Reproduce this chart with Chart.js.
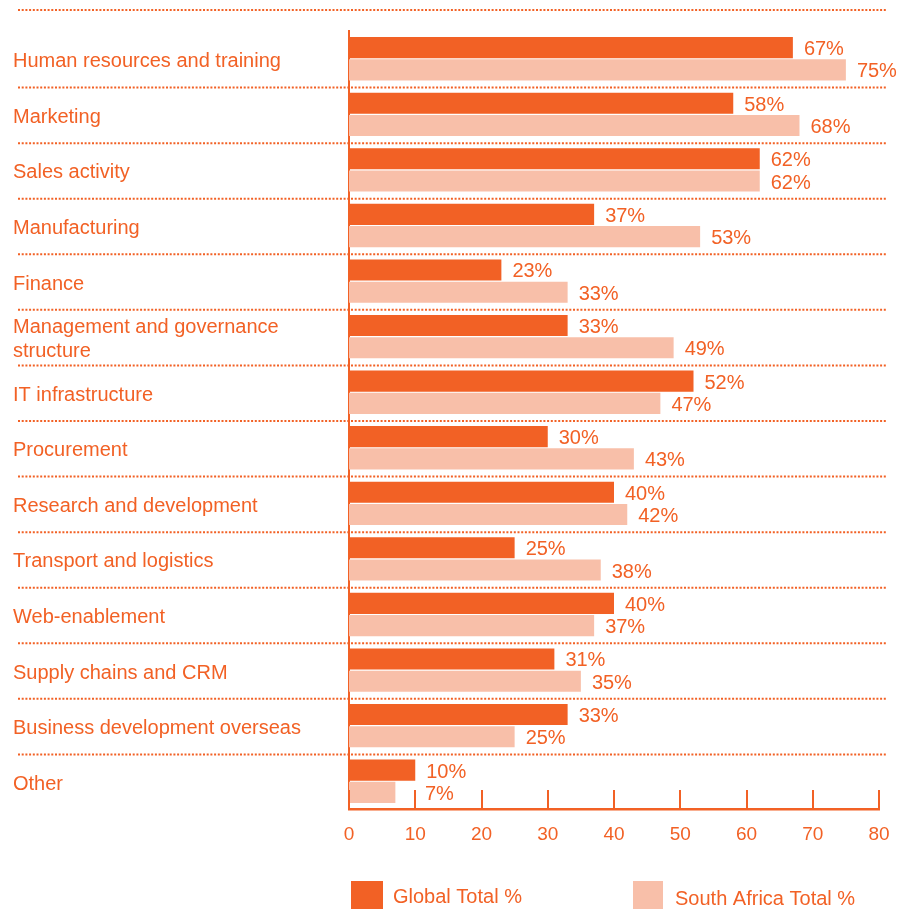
<!DOCTYPE html>
<html>
<head>
<meta charset="utf-8">
<script src="https://cdn.jsdelivr.net/npm/chart.js@4/dist/chart.umd.min.js"></script>
<style>
  html, body { margin: 0; padding: 0; background: #ffffff; }
  #wrap { width: 915px; height: 909px; }
</style>
</head>
<body>
<div id="wrap"><canvas id="c" width="915" height="909"></canvas></div>
<script>
// Categories (top to bottom) and the two survey series, in percent
const categories = [
  'Human resources and training',
  'Marketing',
  'Sales activity',
  'Manufacturing',
  'Finance',
  ['Management and governance', 'structure'],
  'IT infrastructure',
  'Procurement',
  'Research and development',
  'Transport and logistics',
  'Web-enablement',
  'Supply chains and CRM',
  'Business development overseas',
  'Other'
];
const globalTotal = [67, 58, 62, 37, 23, 33, 52, 30, 40, 25, 40, 31, 33, 10];
const southAfricaTotal = [75, 68, 62, 53, 33, 49, 47, 43, 42, 38, 37, 35, 25, 7];
const seriesNames = ['Global Total %', 'South Africa Total %'];
const xTickLabels = ['0', '10', '20', '30', '40', '50', '60', '70', '80'];

const ORANGE = '#F26125';
const PEACH = '#F8BFA9';
const FONT = "'Liberation Sans', Arial, Helvetica, sans-serif";
const TICK_LEN = 19;

// Dotted row separators, upward tick marks, value labels and the legend
const decor = {
  id: 'decor',
  beforeDatasetsDraw(chart) {
    const { ctx, chartArea, scales: { y } } = chart;
    const step = y.getPixelForValue(1) - y.getPixelForValue(0);
    const rows = [chartArea.top - 21];
    for (let i = 0; i < categories.length - 1; i++) {
      rows.push(y.getPixelForValue(i) + step / 2 + 1);
    }
    ctx.save();
    ctx.strokeStyle = ORANGE;
    ctx.lineWidth = 2;
    ctx.setLineDash([2, 1.7]);
    rows.forEach(py => {
      ctx.beginPath();
      ctx.moveTo(18, py);
      ctx.lineTo(887, py);
      ctx.stroke();
    });
    ctx.restore();
  },
  afterDatasetsDraw(chart) {
    const { ctx, chartArea, scales: { x } } = chart;
    const tickX = xTickLabels.map((_, i) => Math.round(x.getPixelForValue(i * 10)));
    ctx.save();
    // tick marks rising from the value axis
    ctx.strokeStyle = ORANGE;
    ctx.lineWidth = 2;
    tickX.forEach(px => {
      ctx.beginPath();
      ctx.moveTo(px, chartArea.bottom);
      ctx.lineTo(px, chartArea.bottom - TICK_LEN);
      ctx.stroke();
    });
    // percentage labels at the end of each bar, kept clear of the tick marks
    ctx.fillStyle = ORANGE;
    ctx.font = '20px ' + FONT;
    ctx.textAlign = 'left';
    ctx.textBaseline = 'middle';
    chart.data.datasets.forEach((ds, di) => {
      const meta = chart.getDatasetMeta(di);
      meta.data.forEach((bar, i) => {
        const text = ds.data[i] + '%';
        let tx = bar.x + 11;
        const ty = bar.y + 1;
        if (ty + 8 > chartArea.bottom - TICK_LEN) {
          const w = ctx.measureText(text).width;
          const hit = tickX.find(px => px > tx - 2 && px < tx + w + 2);
          if (hit !== undefined) tx = hit + 10;
        }
        ctx.fillText(text, tx, ty + 1);
      });
    });
    ctx.restore();
  },
  afterDraw(chart) {
    const { ctx, chartArea } = chart;
    const items = [
      { x: chartArea.left + 2, w: 32, ty: 897, color: ORANGE },
      { x: chartArea.left + 284, w: 30, ty: 899, color: PEACH }
    ];
    ctx.save();
    ctx.font = '20px ' + FONT;
    ctx.textAlign = 'left';
    ctx.textBaseline = 'middle';
    items.forEach((it, i) => {
      ctx.fillStyle = it.color;
      ctx.fillRect(it.x, 881, it.w, 28);
      ctx.fillStyle = ORANGE;
      ctx.fillText(chart.data.datasets[i].label, it.x + 42, it.ty);
    });
    ctx.restore();
  }
};

new Chart(document.getElementById('c'), {
  type: 'bar',
  data: {
    labels: categories,
    datasets: [
      { label: seriesNames[0], data: globalTotal, backgroundColor: ORANGE,
        categoryPercentage: 0.8, barPercentage: 0.95 },
      { label: seriesNames[1], data: southAfricaTotal, backgroundColor: PEACH,
        categoryPercentage: 0.8, barPercentage: 0.95 }
    ]
  },
  options: {
    indexAxis: 'y',
    responsive: false,
    animation: false,
    devicePixelRatio: 1,
    layout: { padding: { left: 13, right: 36, top: 31, bottom: 0 } },
    plugins: {
      legend: { display: false },
      tooltip: { enabled: false }
    },
    scales: {
      x: {
        min: 0, max: 80,
        grid: { display: false, drawTicks: false },
        border: { display: true, color: ORANGE, width: 2.5 },
        ticks: {
          stepSize: 10,
          padding: 14,
          color: ORANGE,
          font: { family: FONT, size: 19 },
          callback: (v) => xTickLabels[Math.round(v / 10)]
        },
        afterFit: (s) => { s.height = 100; }
      },
      y: {
        grid: { display: false, drawTicks: false },
        border: { display: true, color: ORANGE, width: 2 },
        ticks: {
          crossAlign: 'far',
          padding: 0,
          labelOffset: 3,
          color: ORANGE,
          font: { family: FONT, size: 20, lineHeight: 1.2 }
        },
        afterFit: (s) => { s.width = 336; }
      }
    }
  },
  plugins: [decor]
});
</script>
</body>
</html>
